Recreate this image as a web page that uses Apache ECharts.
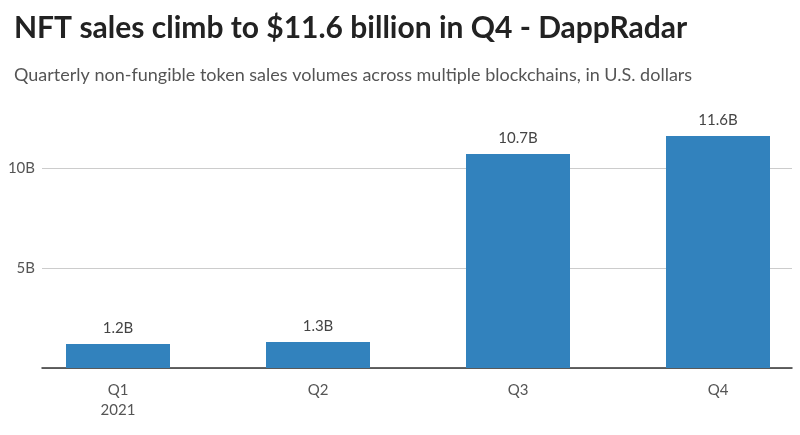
<!DOCTYPE html>
<html><head><meta charset="utf-8">
<script src="https://cdn.jsdelivr.net/npm/echarts@6/dist/echarts.min.js"></script>
<style>html,body{margin:0;padding:0;background:#fff}#c{width:800px;height:435px}</style>
</head><body><div id="c"></div>
<script>
var categories = ['Q1\n2021', 'Q2', 'Q3', 'Q4'];
var sales = [1.2, 1.3, 10.7, 11.6];
var yTicks = [0, 5, 10];

var chart = echarts.init(document.getElementById('c'));
var font = 'Lato';
chart.setOption({
  animation: false,
  title: [{
    text: 'NFT sales climb to $11.6 billion in Q4 - DappRadar',
    left: 9, top: 8,
    textStyle: {fontFamily: font, fontWeight: 'bold', fontSize: 30, color: '#222'}
  }, {
    text: 'Quarterly non-fungible token sales volumes across multiple blockchains, in U.S. dollars',
    left: 9, top: 61,
    textStyle: {fontFamily: font, fontWeight: 'normal', fontSize: 18, color: '#555'}
  }],
  grid: [
    {left: 42, right: 8, top: 168, bottom: 67},
    {left: 118, right: 82, top: 128, bottom: 67}
  ],
  xAxis: [
    {gridIndex: 0, type: 'category', data: categories, axisLine: {lineStyle: {color: '#333', width: 1.5}},
     axisTick: {show: false}, axisLabel: {show: false}},
    {gridIndex: 1, type: 'category', data: categories, boundaryGap: false,
     axisLine: {show: false}, axisTick: {show: false}, splitLine: {show: false},
     axisLabel: {fontFamily: font, fontSize: 15, color: '#555', margin: 12, lineHeight: 20}}
  ],
  yAxis: [
    {gridIndex: 0, type: 'value', min: yTicks[0], max: yTicks[yTicks.length - 1], interval: 5,
     axisLine: {show: false}, axisTick: {show: false},
     splitLine: {lineStyle: {color: '#ccc', width: 1}},
     axisLabel: {fontFamily: font, fontSize: 15, color: '#555', margin: 7,
       formatter: function (v) { return v === 0 ? '' : v + 'B'; }}},
    {gridIndex: 1, type: 'value', min: 0, max: 12, show: false, splitLine: {show: false}}
  ],
  series: [{
    type: 'bar', xAxisIndex: 1, yAxisIndex: 1, data: sales, barWidth: 104, clip: false,
    itemStyle: {color: '#3282bd'},
    label: {show: true, position: 'top', distance: 8, fontFamily: font, fontSize: 15, color: '#444',
      formatter: function (p) { return p.value.toFixed(1) + 'B'; }}
  }]
});
</script></body></html>
